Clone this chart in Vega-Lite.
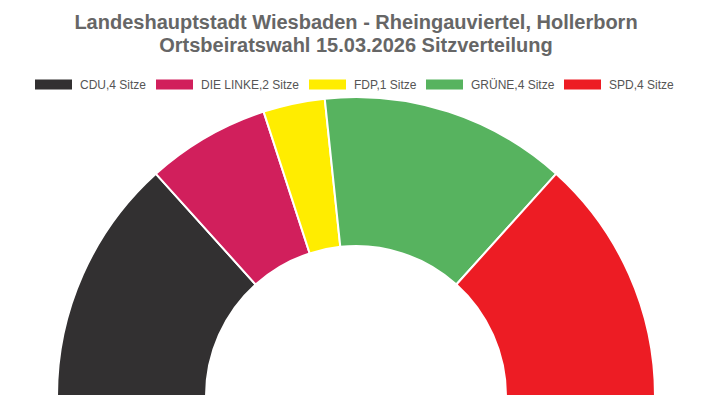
{
  "$schema": "https://vega.github.io/schema/vega-lite/v6.json",
  "width": 712,
  "height": 400,
  "autosize": {"type": "fit", "contains": "padding"},
  "padding": {"top": 13, "left": 0, "right": 0, "bottom": 0},
  "background": "white",
  "title": {
    "text": ["Landeshauptstadt Wiesbaden - Rheingauviertel, Hollerborn", "Ortsbeiratswahl 15.03.2026 Sitzverteilung"],
    "anchor": "middle",
    "frame": "group",
    "font": "Liberation Sans",
    "fontSize": 20,
    "fontWeight": "bold",
    "color": "#666666",
    "lineHeight": 23,
    "offset": 6
  },
  "data": {
    "values": [
      {"partei": "CDU", "sitze": 4, "label": "CDU,4 Sitze", "ord": 1},
      {"partei": "DIE LINKE", "sitze": 2, "label": "DIE LINKE,2 Sitze", "ord": 2},
      {"partei": "FDP", "sitze": 1, "label": "FDP,1 Sitze", "ord": 3},
      {"partei": "GRÜNE", "sitze": 4, "label": "GRÜNE,4 Sitze", "ord": 4},
      {"partei": "SPD", "sitze": 4, "label": "SPD,4 Sitze", "ord": 5}
    ]
  },
  "mark": {
    "type": "arc",
    "outerRadius": 299,
    "innerRadius": 150,
    "x": {"expr": "width/2"},
    "y": {"expr": "height + 1"},
    "stroke": "white",
    "strokeWidth": 2
  },
  "encoding": {
    "theta": {
      "field": "sitze",
      "type": "quantitative",
      "stack": true,
      "scale": {"range": [-1.5707963, 1.5707963]}
    },
    "order": {"field": "ord", "type": "quantitative", "sort": "ascending"},
    "color": {
      "field": "label",
      "type": "nominal",
      "sort": ["CDU,4 Sitze", "DIE LINKE,2 Sitze", "FDP,1 Sitze", "GRÜNE,4 Sitze", "SPD,4 Sitze"],
      "scale": {
        "domain": ["CDU,4 Sitze", "DIE LINKE,2 Sitze", "FDP,1 Sitze", "GRÜNE,4 Sitze", "SPD,4 Sitze"],
        "range": ["#323031", "#d11f5c", "#ffed00", "#57b35f", "#ed1c24"]
      },
      "legend": {
        "title": null,
        "orient": "none",
        "direction": "horizontal",
        "legendX": 35,
        "legendY": 4,
        "zindex": 1,
        "gridAlign": "none",
        "symbolType": "M-1,-0.27H1V0.27H-1Z",
        "symbolSize": 1369,
        "symbolStrokeWidth": 0,
        "labelOffset": 8,
        "columnPadding": 9,
        "labelFont": "Liberation Sans",
        "labelFontSize": 12,
        "labelColor": "#555555"
      }
    }
  },
  "config": {"view": {"stroke": null}}
}
